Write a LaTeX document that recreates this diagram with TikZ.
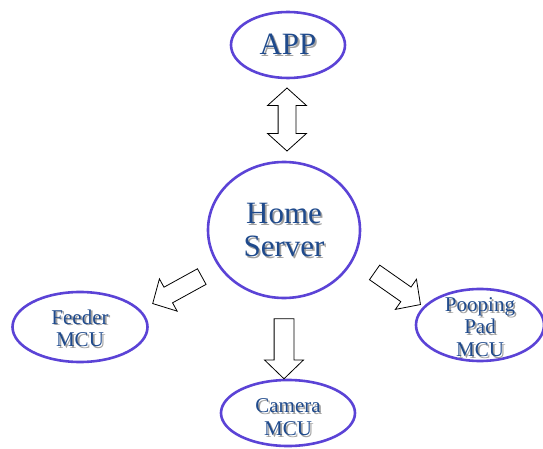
\documentclass[tikz,border=0pt]{standalone}
\usepackage{fontspec}
\setmainfont{Liberation Serif}
\usetikzlibrary{shapes.geometric,shapes.arrows}
\definecolor{ovalc}{HTML}{5B43D6}
\definecolor{txtc}{HTML}{1F4A8C}
\definecolor{shc}{HTML}{A0A0A0}
\newcommand\shw[1]{\rlap{\kern1.8pt\raisebox{-1.8pt}{\textcolor{shc}{#1}}}#1}
\begin{document}
\begin{tikzpicture}[x=1pt,y=-1pt,
  oval/.style={ellipse, draw=ovalc, line width=2.6pt, inner sep=0pt},
  lbl/.style={text=txtc, align=center, inner sep=0pt},
  big/.style={font=\fontsize{31}{33}\selectfont},
  small/.style={font=\fontsize{21}{22.5}\selectfont},
  blk/.style={single arrow, draw=black, line width=0.8pt, fill=white, inner xsep=0pt, single arrow tip angle=92},
  dblk/.style={double arrow, draw=black, line width=0.8pt, fill=white, inner xsep=0pt, double arrow tip angle=96},
]
\useasboundingbox (0,0) rectangle (543,449);

% ovals
\node[oval, minimum width=114pt, minimum height=66pt] (app) at (288,45) {};
\node[oval, minimum width=152pt, minimum height=136pt] (srv) at (284,230) {};
\node[oval, minimum width=135pt, minimum height=70pt] (feed) at (80,327) {};
\node[oval, minimum width=128pt, minimum height=72pt] (pad) at (480,325) {};
\node[oval, minimum width=134pt, minimum height=66pt] (cam) at (288,413) {};

% texts with shadow
\node[lbl, big] (tapp) at (app) {\shw{APP}};
\node[lbl, big] (tsrv) at (284,231) {\shw{Home}\\\shw{Server}};
\node[lbl, small] (tfeed) at (80,329) {\shw{Feeder}\\\shw{MCU}};
\node[lbl, small] (tpad) at (480,328) {\shw{Pooping}\\\shw{Pad}\\\shw{MCU}};
\node[lbl, small] (tcam) at (288,418) {\shw{Camera}\\\shw{MCU}};

% block arrows
\node[dblk, minimum height=63pt, minimum width=38pt, inner ysep=8.5pt, double arrow head extend=10.5pt, rotate=90] (a1) at (287,119.5) {};
\node[blk, minimum height=60pt, minimum width=38pt, inner ysep=9.5pt, single arrow head extend=9.5pt, rotate=-90] (a2) at (284,344) {};
\node[blk, minimum height=56pt, minimum width=36pt, inner ysep=8.5pt, single arrow head extend=9.5pt, rotate=208.8] (a3) at (181,288) {};
\node[blk, minimum height=56pt, minimum width=36pt, inner ysep=8.5pt, single arrow head extend=9.5pt, rotate=-35] (a4) at (394,286) {};
\end{tikzpicture}
\end{document}
